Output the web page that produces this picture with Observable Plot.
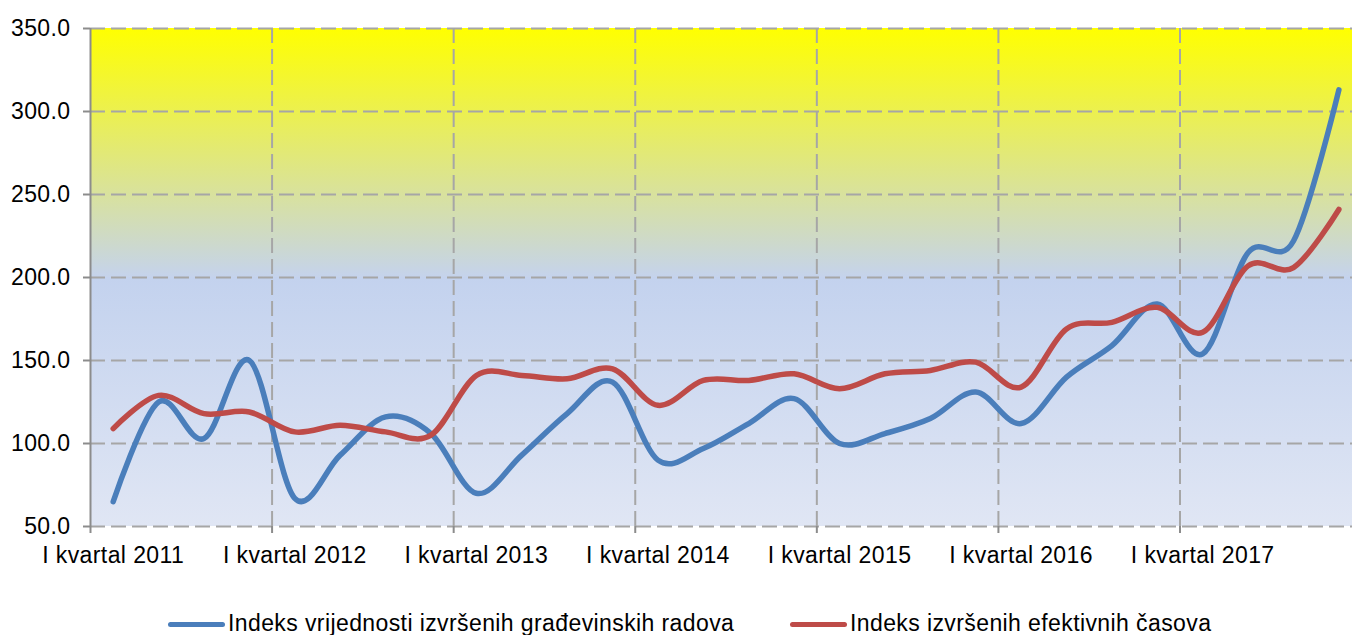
<!DOCTYPE html>
<html><head><meta charset="utf-8">
<script src="https://cdn.jsdelivr.net/npm/d3@7"></script>
<script src="https://cdn.jsdelivr.net/npm/@observablehq/plot@0.6"></script>
<style>
body{margin:0;background:#fff;font-family:"Liberation Sans",Arial,sans-serif;overflow:hidden}
#chart svg{display:block}
#chart svg text{letter-spacing:0.4px}
#legend{position:relative;height:55px;width:1352px}
.sw{position:absolute;height:5px;border-radius:3px;width:57px}
.lt{position:absolute;font-size:23px;line-height:23px;letter-spacing:0.4px;white-space:nowrap;color:#000}
</style></head>
<body><div id="chart"></div><div id="legend"></div>
<script>
const years = [2011, 2012, 2013, 2014, 2015, 2016, 2017];
const quarters = ["I", "II", "III", "IV"];
const yearLabels = years.map(y => "I kvartal " + y);
const yTicks = [50, 100, 150, 200, 250, 300, 350];
const seriesNames = ["Indeks vrijednosti izvršenih građevinskih radova", "Indeks izvršenih efektivnih časova"];
const seriesColors = ["#4A7EBB", "#BE4B48"];
const vrijednost = [65, 125, 103, 150, 67, 93, 116, 106, 70, 93, 118, 137, 90, 97, 112, 127, 100, 106, 115, 131, 112, 140, 159, 184, 154, 215, 222, 313];
const casovi = [109, 129, 118, 119, 107, 111, 107, 105, 141, 141, 139, 145, 123, 138, 138, 142, 133, 142, 144, 149, 134, 169, 173, 182, 167, 207, 206, 241];

const periods = years.flatMap(y => quarters.map(q => q + " kvartal " + y));
const rows = [];
[vrijednost, casovi].forEach((arr, s) => arr.forEach((v, i) => rows.push({i: i + 0.5, period: periods[i], value: v, series: seriesNames[s]})));

const yearStarts = years.map((y, k) => k * 4);
const labelPos = years.map((y, k) => k * 4 + 0.5);
const gridColor = "#A6A6A6";
const axisColor = "#8C8C8C";
const xEnd = 27.8; // visible part of the 28-quarter band axis (the last band runs past the right edge)

const plot = Plot.plot({
  width: 1352, height: 580,
  marginLeft: 90, marginRight: 0, marginTop: 28, marginBottom: 54,
  style: {fontFamily: "Liberation Sans, Arial, sans-serif", fontSize: "23px", color: "#000", background: "transparent"},
  x: {type: "linear", domain: [0, xEnd], axis: null},
  y: {domain: [50, 350], axis: null},
  color: {domain: seriesNames, range: seriesColors},
  marks: [
    Plot.rect([{a: 200, b: 350}], {x1: () => 0, x2: () => xEnd, y1: "a", y2: "b", fill: "url(#gTop)"}),
    Plot.rect([{a: 50, b: 200}], {x1: () => 0, x2: () => xEnd, y1: "a", y2: "b", fill: "url(#gBot)"}),
    Plot.ruleY(yTicks, {stroke: gridColor, strokeWidth: 2, strokeDasharray: "15,6"}),
    Plot.ruleX(yearStarts.slice(1), {y1: 50, y2: 350, stroke: gridColor, strokeWidth: 2, strokeDasharray: "15,6"}),
    Plot.ruleX([0], {y1: 50, y2: 350, stroke: axisColor, strokeWidth: 2}),
    Plot.axisY({ticks: yTicks, tickFormat: d => d.toFixed(1), tickSize: 7, tickPadding: 13, stroke: axisColor, strokeWidth: 2, label: null, fontSize: 23}),
    Plot.axisX({ticks: yearStarts, tickFormat: () => "", tickSize: 7, stroke: axisColor, strokeWidth: 2, label: null}),
    Plot.axisX({ticks: labelPos, tickFormat: d => yearLabels[Math.round(d - 0.5) / 4], tickSize: 0, tickPadding: 20, label: null, fontSize: 23}),
    Plot.line(rows, {x: "i", y: "value", z: "series", stroke: "series", strokeWidth: 5.5, curve: "cardinal", tension: 0, strokeLinecap: "round", strokeLinejoin: "round"})
  ]
});

const svg = d3.select(plot);
const defs = svg.insert("defs", ":first-child");
const g1 = defs.append("linearGradient").attr("id", "gTop").attr("x1", 0).attr("y1", 0).attr("x2", 0).attr("y2", 1);
g1.append("stop").attr("offset", "0%").attr("stop-color", "#FFFF00");
g1.append("stop").attr("offset", "100%").attr("stop-color", "#C5D3EC");
const g2 = defs.append("linearGradient").attr("id", "gBot").attr("x1", 0).attr("y1", 0).attr("x2", 0).attr("y2", 1);
g2.append("stop").attr("offset", "0%").attr("stop-color", "#C3D2EE");
g2.append("stop").attr("offset", "100%").attr("stop-color", "#E0E6F4");
document.getElementById("chart").appendChild(plot);

const legend = d3.select("#legend");
const lefts = [168, 790];
seriesNames.forEach((n, k) => {
  legend.append("div").attr("class", "sw").style("left", lefts[k] + "px").style("top", "42px").style("background", seriesColors[k]);
  legend.append("div").attr("class", "lt").style("left", (lefts[k] + 60) + "px").style("top", "32px").text(n);
});
</script>
</body></html>
